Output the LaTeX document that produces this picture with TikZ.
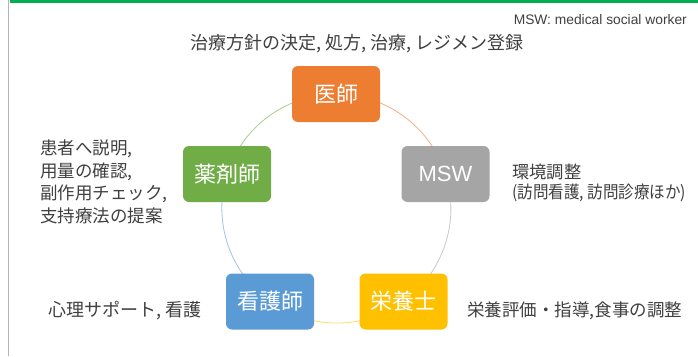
\documentclass[tikz,border=0pt]{standalone}
\usepackage{fontspec}
\setmainfont{Noto Sans CJK JP}
\newfontfamily\latinfont{Liberation Sans}
\usetikzlibrary{backgrounds}
\definecolor{cOrange}{HTML}{ED7D31}
\definecolor{cGray}{HTML}{A5A5A5}
\definecolor{cGreen}{HTML}{70AD47}
\definecolor{cBlue}{HTML}{5B9BD5}
\definecolor{cYellow}{HTML}{FFC000}
\definecolor{topGreen}{HTML}{00B050}
\definecolor{sideGray}{HTML}{B4B4B4}
\definecolor{txtGray}{HTML}{404040}
\begin{document}
\begin{tikzpicture}[x=1pt,y=1pt,
  box/.style={rectangle, rounded corners=6pt, minimum width=88pt, minimum height=56pt,
    inner sep=0pt, text=white, font=\fontsize{22}{26}\selectfont},
  lbl/.style={text=txtGray, inner sep=0pt, font=\fontsize{17.5}{22.5}\selectfont},
  arcline/.style={line width=0.8pt, bend left=36, looseness=0.94}]
\useasboundingbox (0,0) rectangle (698,-356);
% boxes
\node[box, fill=cOrange] (doc) at (336,-94) {医師};
\node[box, fill=cGray, font=\latinfont\fontsize{22}{26}\selectfont] (msw) at (445.5,-174) {MSW};
\node[box, fill=cYellow] (nut) at (403.5,-301.5) {栄養士};
\node[box, fill=cBlue] (nur) at (270,-301.5) {看護師};
\node[box, fill=cGreen] (pha) at (227,-174) {薬剤師};
% labels
\node[lbl, anchor=east, font=\latinfont\fontsize{13.8}{16}\selectfont] (note) at (687,-20) {MSW: medical social worker};
\node[lbl, font=\fontsize{18}{22}\selectfont] (ldoc) at (357,-44) {治療方針の決定, 処方, 治療, レジメン登録};
\node[lbl, anchor=west, align=left] (lpha) at (40,-182) {患者へ説明,\\用量の確認,\\副作用チェック,\\支持療法の提案};
\node[lbl, anchor=west, align=left, font=\fontsize{17.3}{20}\selectfont] (lmsw) at (512,-182.5) {環境調整\\\scalebox{0.9}[1]{(訪問看護, 訪問診療ほか)}};
\node[lbl, anchor=west, font=\fontsize{18}{22}\selectfont] (lnur) at (48,-311) {心理サポート, 看護};
\node[lbl, anchor=west] (lnut) at (467,-311) {栄養評価・指導,食事の調整};
\begin{pgfonlayer}{background}
\fill[white] (0,0) rectangle (698,-356);
\fill[topGreen] (10,0) rectangle (698,-3);
\draw[sideGray, line width=1.5pt] (8.5,0) -- (8.5,-356);
\draw[arcline, cOrange!60] (doc.center) to (msw.center);
\draw[arcline, cGray!60] (msw.center) to (nut.center);
\draw[arcline, cYellow!60] (nut.center) to (nur.center);
\draw[arcline, cBlue!60] (nur.center) to (pha.center);
\draw[arcline, cGreen!60] (pha.center) to (doc.center);
\end{pgfonlayer}
\end{tikzpicture}
\end{document}
